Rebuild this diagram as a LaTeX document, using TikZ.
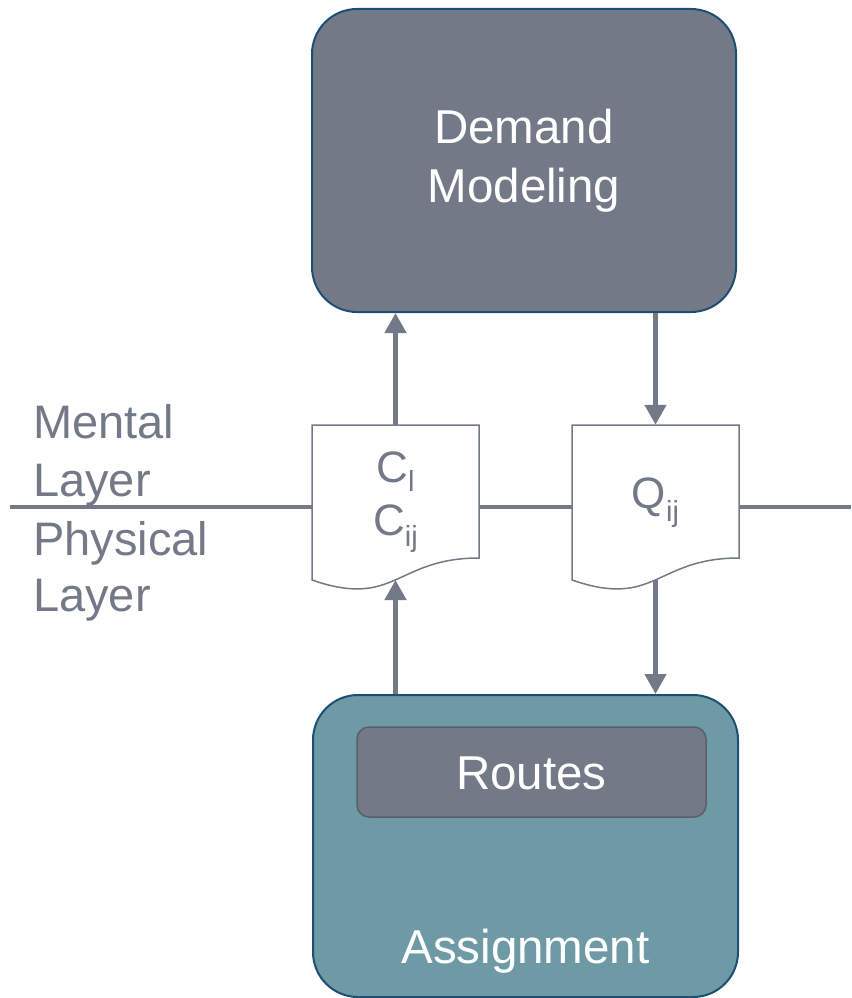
\documentclass[tikz,border=0pt]{standalone}
\usepackage{fontspec}
\setmainfont{Liberation Sans}
\usetikzlibrary{arrows.meta}
\definecolor{boxgray}{HTML}{737987}
\definecolor{teal}{HTML}{6E9AA6}
\definecolor{darkblue}{HTML}{1D4E74}
\definecolor{routesborder}{HTML}{5B5F6A}
\definecolor{linegray}{HTML}{737987}
\tikzset{
  bigbox/.style={draw=darkblue, line width=2pt, rounded corners=45pt, inner sep=0pt},
  docframe/.style={draw=none, inner sep=0pt},
  docline/.style={draw=linegray, line width=1.5pt, fill=white},
  flow/.style={draw=linegray, line width=4.5pt, -{Triangle[width=21pt,length=20pt]}},
  layerline/.style={draw=linegray, line width=4pt},
  whitetxt/.style={text=white, font=\fontsize{47.5}{59}\selectfont, inner sep=0pt},
  graytxt/.style={text=linegray, inner sep=0pt},
  layertxt/.style={graytxt, anchor=base west, font=\fontsize{47}{47}\selectfont},
  doctxt/.style={graytxt, anchor=base, font=\fontsize{44}{44}\selectfont},
}
\newcommand{\subtxt}[2]{\raisebox{-#1pt}{\fontsize{29}{29}\selectfont #2}}
\begin{document}
\begin{tikzpicture}[x=1pt,y=-1pt]
\useasboundingbox (0,0) rectangle (851,998);
% big boxes
\node[bigbox, fill=boxgray, minimum width=424pt, minimum height=303pt] (demand) at (524,160.5) {};
\node[whitetxt, align=center] (demandtxt) at (524,161) {Demand\\Modeling};
\node[bigbox, fill=teal, minimum width=425pt, minimum height=302pt] (assign) at (525.5,846) {};
\node[draw=routesborder, line width=1.5pt, fill=boxgray, rounded corners=12pt, minimum width=349pt, minimum height=90pt] (routes) at (531.5,772) {};
\node[whitetxt, anchor=base] (routestxt) at (531.5,789) {Routes};
\node[whitetxt, anchor=base] (assigntxt) at (525.5,963) {Assignment};
% document frames
\node[docframe, minimum width=167pt, minimum height=166pt] (cdoc) at (395.5,508) {};
\node[docframe, minimum width=167pt, minimum height=166pt] (qdoc) at (655.5,508) {};
% layer line
\coordinate (lleft) at (10,507);
\coordinate (lright) at (851,507);
\draw[layerline] (lleft) -- (lleft -| cdoc.west);
\draw[layerline] (lleft -| cdoc.east) -- (lleft -| qdoc.west);
\draw[layerline] (lleft -| qdoc.east) -- (lright);
% document shapes
\draw[docline] (312,425) -- (479,425) -- (479,558) .. controls (395.5,558) and (395.5,609) .. (312,580) -- cycle;
\draw[docline] (572,425) -- (739,425) -- (739,558) .. controls (655.5,558) and (655.5,609) .. (572,580) -- cycle;
\coordinate (cbot) at (395.5,580);
\coordinate (qbot) at (655.5,580);
\node[doctxt] (cl) at (395.5,482) {C\subtxt{9}{l}};
\node[doctxt] (cij) at (395.5,535) {C\subtxt{11}{ij}};
\node[doctxt] (qij) at (655.5,508) {Q\subtxt{13}{ij}};
% layer labels
\node[layertxt] (m1) at (33,438) {Mental};
\node[layertxt] (m2) at (33,496) {Layer};
\node[layertxt] (p1) at (33,555) {Physical};
\node[layertxt] (p2) at (33,611) {Layer};
% arrows
\draw[flow] (cdoc.north) -- (cdoc.north |- demand.south);
\draw[flow] (demand.south -| qdoc.north) -- (qdoc.north);
\draw[flow] (assign.north -| cbot) -- (cbot);
\draw[flow] (qbot) -- (qbot |- assign.north);
\end{tikzpicture}
\end{document}
